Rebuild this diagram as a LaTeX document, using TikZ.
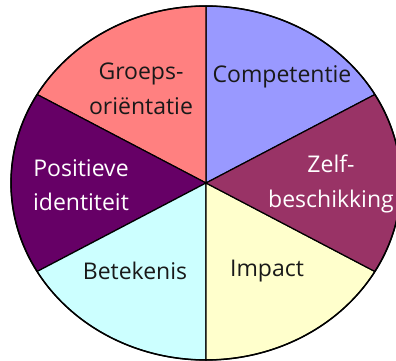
\documentclass[tikz,border=0pt]{standalone}
\usepackage{fontspec}
\setmainfont{Open Sans}
\usetikzlibrary{calc}
\definecolor{cPink}{HTML}{FF8080}
\definecolor{cLav}{HTML}{9999FF}
\definecolor{cPurple}{HTML}{660066}
\definecolor{cMaroon}{HTML}{993366}
\definecolor{cCyan}{HTML}{CCFFFF}
\definecolor{cYellow}{HTML}{FFFFCC}
\begin{document}
\begin{tikzpicture}[x=1pt,y=1pt,
  sector/.style={draw=black,line width=1.2pt,line join=round},
  lab/.style={align=center,inner sep=0pt,font=\fontsize{23}{34.5}\selectfont},
  dark/.style={lab,text=black!90},
  light/.style={lab,text=white}]
\useasboundingbox (0,0) rectangle (396,360);
\clip (0,0) rectangle (396,360);
\coordinate (c) at (206,177);
\foreach \a/\b/\col in {30/90/cLav,90/150/cPink,150/210/cPurple,210/270/cCyan,270/330/cYellow,330/390/cMaroon}{
  \filldraw[sector,fill=\col] (c) -- ($(c)+(\a:195pt and 177pt)$) arc[start angle=\a,end angle=\b,x radius=195pt,y radius=177pt] -- cycle;
}
\draw[line width=1.5pt] (c) ellipse [x radius=195pt,y radius=177pt];
\node[dark] (groeps) at (141,271) {Groeps-\\oriëntatie};
\node[dark] (comp) at (282,283) {Competentie};
\node[light] (pos) at (81,175) {Positieve\\identiteit};
\node[light] (zelf) at (331,176) {Zelf-\\beschikking};
\node[dark] (bet) at (135,89) {Betekenis};
\node[dark] (imp) at (267,89) {Impact};
\end{tikzpicture}
\end{document}
